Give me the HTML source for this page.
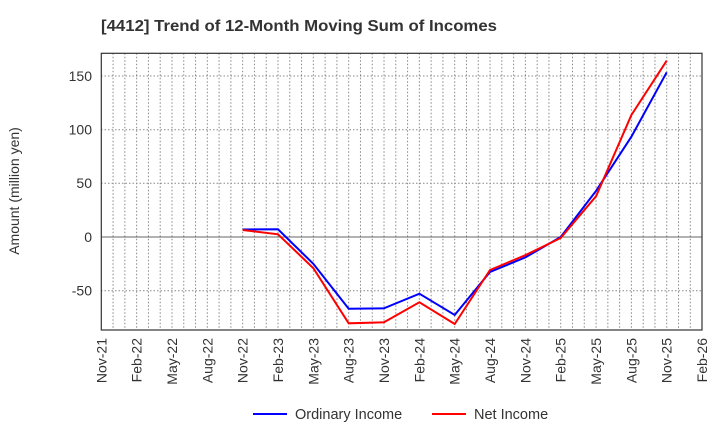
<!DOCTYPE html>
<html><head><meta charset="utf-8"><style>body{margin:0;background:#fff}svg{display:block;font-family:"Liberation Sans",sans-serif}</style></head>
<body>
<svg width="720" height="440" xmlns="http://www.w3.org/2000/svg">
<text x="101" y="31" font-size="16" font-weight="bold" fill="#333" textLength="396" lengthAdjust="spacingAndGlyphs">[4412]  Trend of 12-Month Moving Sum of Incomes</text>
<g id="vg" stroke="#888" stroke-width="1" stroke-dasharray="1.5,2"></g>
<g stroke="#888" stroke-width="1" stroke-dasharray="1.5,2">
<line x1="101" x2="702" y1="76" y2="76"/><line x1="101" x2="702" y1="129.7" y2="129.7"/><line x1="101" x2="702" y1="183.3" y2="183.3"/><line x1="101" x2="702" y1="290.7" y2="290.7"/>
</g>
<line x1="101" x2="702" y1="237" y2="237" stroke="#666" stroke-width="1"/>
<rect x="101.3" y="53.3" width="600.7" height="276.7" fill="none" stroke="#333" stroke-width="1.2"/>
<g font-size="14" fill="#333" text-anchor="end">
<text x="92" y="81">150</text><text x="92" y="134.5">100</text><text x="92" y="188">50</text><text x="92" y="242">0</text><text x="92" y="295.5">-50</text>
</g>
<text transform="translate(19,191) rotate(-90)" font-size="14" fill="#333" text-anchor="middle">Amount (million yen)</text>
<g id="xl" font-size="14" fill="#333" text-anchor="end"></g>
<polyline fill="none" stroke="#0000ff" stroke-width="2" points="242.7,229.5 278,229.3 313.3,263.8 348.7,308.7 384,308.3 419.4,293.7 454.7,315 490,272 525.4,257.4 560.7,237 596.1,190.8 631.4,136.7 666.7,72.3"/>
<polyline fill="none" stroke="#ff0000" stroke-width="2" points="242.7,230 278,234.3 313.3,268.1 348.7,323.3 384,322.3 419.4,302.3 454.7,324 490,270 525.4,255.2 560.7,238 596.1,196.2 631.4,115 666.7,60.7"/>
<line x1="253" x2="287" y1="414" y2="414" stroke="#0000ff" stroke-width="2"/>
<text x="295" y="419" font-size="14.5" fill="#333">Ordinary Income</text>
<line x1="432" x2="466" y1="414" y2="414" stroke="#ff0000" stroke-width="2"/>
<text x="474" y="419" font-size="14.5" fill="#333">Net Income</text>
<script>
var vg=document.getElementById('vg'),xl=document.getElementById('xl'),ns='http://www.w3.org/2000/svg';
for(var m=1;m<51;m++){var x=101.3+m*11.78;var l=document.createElementNS(ns,'line');l.setAttribute('x1',x);l.setAttribute('x2',x);l.setAttribute('y1',53.3);l.setAttribute('y2',330);vg.appendChild(l);}
var mn=['Nov','Feb','May','Aug'];
for(var i=0;i<=17;i++){var m=i*3,x=101.3+m*11.78;var yr=21+Math.floor((i+3)/4);var t=document.createElementNS(ns,'text');t.setAttribute('transform','translate('+(x+5)+',338) rotate(-90)');t.textContent=mn[i%4]+'-'+yr;xl.appendChild(t);}
</script>
</svg>
</body></html>
